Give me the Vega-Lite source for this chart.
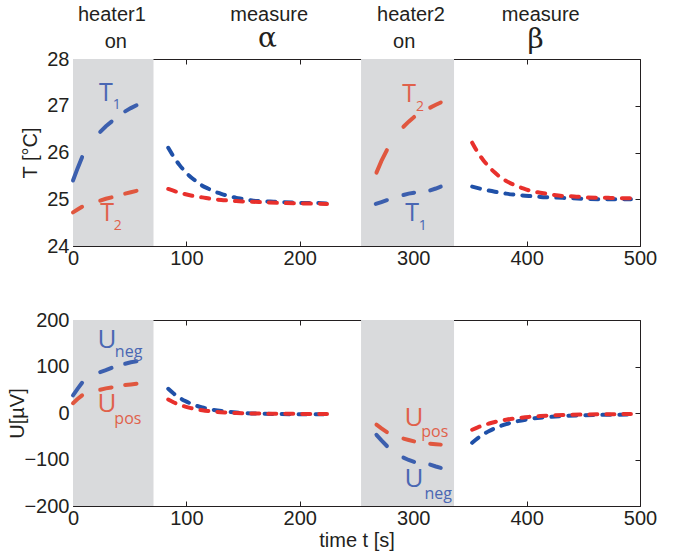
{
  "$schema": "https://vega.github.io/schema/vega-lite/v6.json",
  "background": "white",
  "padding": {"top": 4, "left": 7, "right": 2, "bottom": 5},
  "spacing": 40,
  "config": {
    "font": "Liberation Sans",
    "view": {"stroke": "#231f20", "strokeWidth": 1},
    "axis": {
      "domain": false,
      "grid": false,
      "labelFontSize": 20,
      "labelColor": "#231f20",
      "labelFont": "Liberation Sans",
      "labelFlush": false,
      "titleFont": "Liberation Sans",
      "titleFontSize": 20,
      "titleFontWeight": "normal",
      "titleColor": "#231f20",
      "tickColor": "#231f20",
      "tickSize": -5,
      "tickWidth": 1,
      "labelPadding": 7
    },
    "axisLeft": {"labelPadding": 9}
  },
  "datasets": {
    "bands": [
      {"a": 0, "b": 71},
      {"a": 254, "b": 336}
    ],
    "temp": [
      {"t": 0, "v": 25.40, "s": "T1", "k": "h", "g": "a"},
      {"t": 4, "v": 25.66, "s": "T1", "k": "h", "g": "a"},
      {"t": 8, "v": 25.90, "s": "T1", "k": "h", "g": "a"},
      {"t": 24, "v": 26.44, "s": "T1", "k": "h", "g": "b"},
      {"t": 29, "v": 26.56, "s": "T1", "k": "h", "g": "b"},
      {"t": 34, "v": 26.66, "s": "T1", "k": "h", "g": "b"},
      {"t": 46, "v": 26.88, "s": "T1", "k": "h", "g": "c"},
      {"t": 51, "v": 26.95, "s": "T1", "k": "h", "g": "c"},
      {"t": 56, "v": 27.01, "s": "T1", "k": "h", "g": "c"},
      {"t": 0, "v": 24.72, "s": "T2", "k": "h", "g": "d"},
      {"t": 4, "v": 24.78, "s": "T2", "k": "h", "g": "d"},
      {"t": 8, "v": 24.84, "s": "T2", "k": "h", "g": "d"},
      {"t": 24, "v": 24.97, "s": "T2", "k": "h", "g": "e"},
      {"t": 29, "v": 25.01, "s": "T2", "k": "h", "g": "e"},
      {"t": 34, "v": 25.04, "s": "T2", "k": "h", "g": "e"},
      {"t": 46, "v": 25.12, "s": "T2", "k": "h", "g": "f"},
      {"t": 51, "v": 25.15, "s": "T2", "k": "h", "g": "f"},
      {"t": 56, "v": 25.18, "s": "T2", "k": "h", "g": "f"},
      {"t": 267.6, "v": 25.57, "s": "T2", "k": "h", "g": "g"},
      {"t": 272, "v": 25.82, "s": "T2", "k": "h", "g": "g"},
      {"t": 276.8, "v": 26.05, "s": "T2", "k": "h", "g": "g"},
      {"t": 291.4, "v": 26.55, "s": "T2", "k": "h", "g": "h"},
      {"t": 296, "v": 26.66, "s": "T2", "k": "h", "g": "h"},
      {"t": 300.8, "v": 26.76, "s": "T2", "k": "h", "g": "h"},
      {"t": 315, "v": 26.96, "s": "T2", "k": "h", "g": "i"},
      {"t": 320, "v": 27.02, "s": "T2", "k": "h", "g": "i"},
      {"t": 324.3, "v": 27.07, "s": "T2", "k": "h", "g": "i"},
      {"t": 267, "v": 24.90, "s": "T1", "k": "h", "g": "j"},
      {"t": 272, "v": 24.94, "s": "T1", "k": "h", "g": "j"},
      {"t": 276.8, "v": 24.98, "s": "T1", "k": "h", "g": "j"},
      {"t": 291.4, "v": 25.09, "s": "T1", "k": "h", "g": "k"},
      {"t": 296, "v": 25.12, "s": "T1", "k": "h", "g": "k"},
      {"t": 300.8, "v": 25.14, "s": "T1", "k": "h", "g": "k"},
      {"t": 315, "v": 25.19, "s": "T1", "k": "h", "g": "l"},
      {"t": 320, "v": 25.23, "s": "T1", "k": "h", "g": "l"},
      {"t": 324.3, "v": 25.27, "s": "T1", "k": "h", "g": "l"},
      {"t": 84, "v": 26.10, "s": "T1", "k": "m", "g": "m"},
      {"t": 89, "v": 25.90, "s": "T1", "k": "m", "g": "m"},
      {"t": 94, "v": 25.73, "s": "T1", "k": "m", "g": "m"},
      {"t": 99, "v": 25.59, "s": "T1", "k": "m", "g": "m"},
      {"t": 104, "v": 25.47, "s": "T1", "k": "m", "g": "m"},
      {"t": 109, "v": 25.38, "s": "T1", "k": "m", "g": "m"},
      {"t": 114, "v": 25.29, "s": "T1", "k": "m", "g": "m"},
      {"t": 119, "v": 25.23, "s": "T1", "k": "m", "g": "m"},
      {"t": 124, "v": 25.17, "s": "T1", "k": "m", "g": "m"},
      {"t": 129, "v": 25.13, "s": "T1", "k": "m", "g": "m"},
      {"t": 134, "v": 25.09, "s": "T1", "k": "m", "g": "m"},
      {"t": 139, "v": 25.06, "s": "T1", "k": "m", "g": "m"},
      {"t": 144, "v": 25.03, "s": "T1", "k": "m", "g": "m"},
      {"t": 149, "v": 25.01, "s": "T1", "k": "m", "g": "m"},
      {"t": 154, "v": 24.99, "s": "T1", "k": "m", "g": "m"},
      {"t": 159, "v": 24.97, "s": "T1", "k": "m", "g": "m"},
      {"t": 164, "v": 24.96, "s": "T1", "k": "m", "g": "m"},
      {"t": 174, "v": 24.95, "s": "T1", "k": "m", "g": "m"},
      {"t": 184, "v": 24.94, "s": "T1", "k": "m", "g": "m"},
      {"t": 194, "v": 24.93, "s": "T1", "k": "m", "g": "m"},
      {"t": 204, "v": 24.92, "s": "T1", "k": "m", "g": "m"},
      {"t": 214, "v": 24.92, "s": "T1", "k": "m", "g": "m"},
      {"t": 224, "v": 24.91, "s": "T1", "k": "m", "g": "m"},
      {"t": 84, "v": 25.22, "s": "T2", "k": "m", "g": "n"},
      {"t": 94, "v": 25.14, "s": "T2", "k": "m", "g": "n"},
      {"t": 104, "v": 25.08, "s": "T2", "k": "m", "g": "n"},
      {"t": 114, "v": 25.04, "s": "T2", "k": "m", "g": "n"},
      {"t": 124, "v": 25.00, "s": "T2", "k": "m", "g": "n"},
      {"t": 134, "v": 24.98, "s": "T2", "k": "m", "g": "n"},
      {"t": 144, "v": 24.96, "s": "T2", "k": "m", "g": "n"},
      {"t": 154, "v": 24.95, "s": "T2", "k": "m", "g": "n"},
      {"t": 164, "v": 24.94, "s": "T2", "k": "m", "g": "n"},
      {"t": 184, "v": 24.92, "s": "T2", "k": "m", "g": "n"},
      {"t": 204, "v": 24.91, "s": "T2", "k": "m", "g": "n"},
      {"t": 224, "v": 24.90, "s": "T2", "k": "m", "g": "n"},
      {"t": 352, "v": 25.27, "s": "T1", "k": "m", "g": "o"},
      {"t": 362, "v": 25.21, "s": "T1", "k": "m", "g": "o"},
      {"t": 372, "v": 25.16, "s": "T1", "k": "m", "g": "o"},
      {"t": 382, "v": 25.12, "s": "T1", "k": "m", "g": "o"},
      {"t": 392, "v": 25.09, "s": "T1", "k": "m", "g": "o"},
      {"t": 402, "v": 25.07, "s": "T1", "k": "m", "g": "o"},
      {"t": 412, "v": 25.05, "s": "T1", "k": "m", "g": "o"},
      {"t": 422, "v": 25.04, "s": "T1", "k": "m", "g": "o"},
      {"t": 432, "v": 25.03, "s": "T1", "k": "m", "g": "o"},
      {"t": 452, "v": 25.01, "s": "T1", "k": "m", "g": "o"},
      {"t": 472, "v": 25.00, "s": "T1", "k": "m", "g": "o"},
      {"t": 492, "v": 25.00, "s": "T1", "k": "m", "g": "o"},
      {"t": 352, "v": 26.21, "s": "T2", "k": "m", "g": "p"},
      {"t": 357, "v": 26.00, "s": "T2", "k": "m", "g": "p"},
      {"t": 362, "v": 25.83, "s": "T2", "k": "m", "g": "p"},
      {"t": 367, "v": 25.69, "s": "T2", "k": "m", "g": "p"},
      {"t": 372, "v": 25.57, "s": "T2", "k": "m", "g": "p"},
      {"t": 377, "v": 25.47, "s": "T2", "k": "m", "g": "p"},
      {"t": 382, "v": 25.39, "s": "T2", "k": "m", "g": "p"},
      {"t": 387, "v": 25.33, "s": "T2", "k": "m", "g": "p"},
      {"t": 392, "v": 25.28, "s": "T2", "k": "m", "g": "p"},
      {"t": 397, "v": 25.23, "s": "T2", "k": "m", "g": "p"},
      {"t": 402, "v": 25.19, "s": "T2", "k": "m", "g": "p"},
      {"t": 412, "v": 25.14, "s": "T2", "k": "m", "g": "p"},
      {"t": 422, "v": 25.10, "s": "T2", "k": "m", "g": "p"},
      {"t": 432, "v": 25.07, "s": "T2", "k": "m", "g": "p"},
      {"t": 442, "v": 25.06, "s": "T2", "k": "m", "g": "p"},
      {"t": 452, "v": 25.04, "s": "T2", "k": "m", "g": "p"},
      {"t": 472, "v": 25.03, "s": "T2", "k": "m", "g": "p"},
      {"t": 492, "v": 25.02, "s": "T2", "k": "m", "g": "p"}
    ],
    "volt": [
      {"t": 0, "v": 38, "s": "Uneg", "k": "h", "g": "a"},
      {"t": 4, "v": 52, "s": "Uneg", "k": "h", "g": "a"},
      {"t": 8, "v": 65, "s": "Uneg", "k": "h", "g": "a"},
      {"t": 24, "v": 88, "s": "Uneg", "k": "h", "g": "b"},
      {"t": 29, "v": 92, "s": "Uneg", "k": "h", "g": "b"},
      {"t": 34, "v": 97, "s": "Uneg", "k": "h", "g": "b"},
      {"t": 46, "v": 106, "s": "Uneg", "k": "h", "g": "c"},
      {"t": 51, "v": 109, "s": "Uneg", "k": "h", "g": "c"},
      {"t": 56, "v": 111, "s": "Uneg", "k": "h", "g": "c"},
      {"t": 0, "v": 21, "s": "Upos", "k": "h", "g": "d"},
      {"t": 4, "v": 30, "s": "Upos", "k": "h", "g": "d"},
      {"t": 8, "v": 38, "s": "Upos", "k": "h", "g": "d"},
      {"t": 24, "v": 50, "s": "Upos", "k": "h", "g": "e"},
      {"t": 29, "v": 53, "s": "Upos", "k": "h", "g": "e"},
      {"t": 34, "v": 55, "s": "Upos", "k": "h", "g": "e"},
      {"t": 46, "v": 60, "s": "Upos", "k": "h", "g": "f"},
      {"t": 51, "v": 61.5, "s": "Upos", "k": "h", "g": "f"},
      {"t": 56, "v": 63, "s": "Upos", "k": "h", "g": "f"},
      {"t": 267.6, "v": -25, "s": "Upos", "k": "h", "g": "g"},
      {"t": 272, "v": -33, "s": "Upos", "k": "h", "g": "g"},
      {"t": 276.8, "v": -41, "s": "Upos", "k": "h", "g": "g"},
      {"t": 291.4, "v": -55, "s": "Upos", "k": "h", "g": "h"},
      {"t": 296, "v": -58, "s": "Upos", "k": "h", "g": "h"},
      {"t": 300.8, "v": -61, "s": "Upos", "k": "h", "g": "h"},
      {"t": 315, "v": -66, "s": "Upos", "k": "h", "g": "i"},
      {"t": 320, "v": -67, "s": "Upos", "k": "h", "g": "i"},
      {"t": 324.3, "v": -68, "s": "Upos", "k": "h", "g": "i"},
      {"t": 267.6, "v": -47, "s": "Uneg", "k": "h", "g": "j"},
      {"t": 272, "v": -59, "s": "Uneg", "k": "h", "g": "j"},
      {"t": 276.8, "v": -71, "s": "Uneg", "k": "h", "g": "j"},
      {"t": 291.4, "v": -96, "s": "Uneg", "k": "h", "g": "k"},
      {"t": 296, "v": -101, "s": "Uneg", "k": "h", "g": "k"},
      {"t": 300.8, "v": -105, "s": "Uneg", "k": "h", "g": "k"},
      {"t": 315, "v": -111, "s": "Uneg", "k": "h", "g": "l"},
      {"t": 320, "v": -115, "s": "Uneg", "k": "h", "g": "l"},
      {"t": 324.3, "v": -118, "s": "Uneg", "k": "h", "g": "l"},
      {"t": 84, "v": 52, "s": "Uneg", "k": "m", "g": "m"},
      {"t": 89, "v": 41.3, "s": "Uneg", "k": "m", "g": "m"},
      {"t": 94, "v": 32.6, "s": "Uneg", "k": "m", "g": "m"},
      {"t": 99, "v": 25.7, "s": "Uneg", "k": "m", "g": "m"},
      {"t": 104, "v": 20.1, "s": "Uneg", "k": "m", "g": "m"},
      {"t": 109, "v": 15.5, "s": "Uneg", "k": "m", "g": "m"},
      {"t": 114, "v": 11.9, "s": "Uneg", "k": "m", "g": "m"},
      {"t": 124, "v": 6.7, "s": "Uneg", "k": "m", "g": "m"},
      {"t": 134, "v": 3.3, "s": "Uneg", "k": "m", "g": "m"},
      {"t": 144, "v": 1.1, "s": "Uneg", "k": "m", "g": "m"},
      {"t": 154, "v": -0.4, "s": "Uneg", "k": "m", "g": "m"},
      {"t": 164, "v": -1.3, "s": "Uneg", "k": "m", "g": "m"},
      {"t": 184, "v": -2.3, "s": "Uneg", "k": "m", "g": "m"},
      {"t": 204, "v": -2.7, "s": "Uneg", "k": "m", "g": "m"},
      {"t": 224, "v": -2.9, "s": "Uneg", "k": "m", "g": "m"},
      {"t": 84, "v": 29, "s": "Upos", "k": "m", "g": "n"},
      {"t": 89, "v": 22.7, "s": "Upos", "k": "m", "g": "n"},
      {"t": 94, "v": 17.7, "s": "Upos", "k": "m", "g": "n"},
      {"t": 99, "v": 13.7, "s": "Upos", "k": "m", "g": "n"},
      {"t": 104, "v": 10.5, "s": "Upos", "k": "m", "g": "n"},
      {"t": 114, "v": 5.9, "s": "Upos", "k": "m", "g": "n"},
      {"t": 124, "v": 3.0, "s": "Upos", "k": "m", "g": "n"},
      {"t": 134, "v": 1.2, "s": "Upos", "k": "m", "g": "n"},
      {"t": 144, "v": 0.0, "s": "Upos", "k": "m", "g": "n"},
      {"t": 164, "v": -1.2, "s": "Upos", "k": "m", "g": "n"},
      {"t": 184, "v": -1.7, "s": "Upos", "k": "m", "g": "n"},
      {"t": 204, "v": -1.9, "s": "Upos", "k": "m", "g": "n"},
      {"t": 224, "v": -2.0, "s": "Upos", "k": "m", "g": "n"},
      {"t": 352, "v": -64, "s": "Uneg", "k": "m", "g": "o"},
      {"t": 357, "v": -54.1, "s": "Uneg", "k": "m", "g": "o"},
      {"t": 362, "v": -45.7, "s": "Uneg", "k": "m", "g": "o"},
      {"t": 367, "v": -38.7, "s": "Uneg", "k": "m", "g": "o"},
      {"t": 372, "v": -32.9, "s": "Uneg", "k": "m", "g": "o"},
      {"t": 377, "v": -28.0, "s": "Uneg", "k": "m", "g": "o"},
      {"t": 382, "v": -23.9, "s": "Uneg", "k": "m", "g": "o"},
      {"t": 392, "v": -17.6, "s": "Uneg", "k": "m", "g": "o"},
      {"t": 402, "v": -13.2, "s": "Uneg", "k": "m", "g": "o"},
      {"t": 412, "v": -10.1, "s": "Uneg", "k": "m", "g": "o"},
      {"t": 422, "v": -8.0, "s": "Uneg", "k": "m", "g": "o"},
      {"t": 432, "v": -6.5, "s": "Uneg", "k": "m", "g": "o"},
      {"t": 452, "v": -4.7, "s": "Uneg", "k": "m", "g": "o"},
      {"t": 472, "v": -3.8, "s": "Uneg", "k": "m", "g": "o"},
      {"t": 492, "v": -3.4, "s": "Uneg", "k": "m", "g": "o"},
      {"t": 352, "v": -36, "s": "Upos", "k": "m", "g": "p"},
      {"t": 357, "v": -30.8, "s": "Upos", "k": "m", "g": "p"},
      {"t": 362, "v": -26.4, "s": "Upos", "k": "m", "g": "p"},
      {"t": 367, "v": -22.6, "s": "Upos", "k": "m", "g": "p"},
      {"t": 372, "v": -19.4, "s": "Upos", "k": "m", "g": "p"},
      {"t": 382, "v": -14.5, "s": "Upos", "k": "m", "g": "p"},
      {"t": 392, "v": -11.0, "s": "Upos", "k": "m", "g": "p"},
      {"t": 402, "v": -8.4, "s": "Upos", "k": "m", "g": "p"},
      {"t": 412, "v": -6.6, "s": "Upos", "k": "m", "g": "p"},
      {"t": 422, "v": -5.3, "s": "Upos", "k": "m", "g": "p"},
      {"t": 432, "v": -4.4, "s": "Upos", "k": "m", "g": "p"},
      {"t": 452, "v": -3.2, "s": "Upos", "k": "m", "g": "p"},
      {"t": 472, "v": -2.6, "s": "Upos", "k": "m", "g": "p"},
      {"t": 492, "v": -2.3, "s": "Upos", "k": "m", "g": "p"}
    ],
    "tlabels": [
      {"t": 29, "v": 27.28, "txt": "T", "s": "b", "k": "main"},
      {"t": 38.5, "v": 27.02, "txt": "1", "s": "b", "k": "sub"},
      {"t": 30, "v": 24.71, "txt": "T", "s": "r", "k": "main"},
      {"t": 39.5, "v": 24.42, "txt": "2", "s": "r", "k": "sub"},
      {"t": 296.4, "v": 27.26, "txt": "T", "s": "r", "k": "main"},
      {"t": 306, "v": 26.98, "txt": "2", "s": "r", "k": "sub"},
      {"t": 299, "v": 24.71, "txt": "T", "s": "b", "k": "main"},
      {"t": 308.5, "v": 24.43, "txt": "1", "s": "b", "k": "sub"},
      {"t": 34.3, "v": 28.95, "txt": "heater1", "s": "k", "k": "head"},
      {"t": 37.8, "v": 28.37, "txt": "on", "s": "k", "k": "head"},
      {"t": 173, "v": 28.95, "txt": "measure", "s": "k", "k": "head"},
      {"t": 171.5, "v": 28.42, "txt": "α", "s": "k", "k": "greek"},
      {"t": 298, "v": 28.95, "txt": "heater2", "s": "k", "k": "head"},
      {"t": 292, "v": 28.37, "txt": "on", "s": "k", "k": "head"},
      {"t": 412.5, "v": 28.95, "txt": "measure", "s": "k", "k": "head"},
      {"t": 408, "v": 28.40, "txt": "β", "s": "k", "k": "greek"}
    ],
    "ulabels": [
      {"t": 30, "v": 158, "txt": "U", "s": "b", "k": "main"},
      {"t": 49, "v": 131, "txt": "neg", "s": "b", "k": "sub"},
      {"t": 30, "v": 19, "txt": "U", "s": "r", "k": "main"},
      {"t": 48.4, "v": -13, "txt": "pos", "s": "r", "k": "sub"},
      {"t": 300.8, "v": -11, "txt": "U", "s": "r", "k": "main"},
      {"t": 319, "v": -41, "txt": "pos", "s": "r", "k": "sub"},
      {"t": 300.8, "v": -143, "txt": "U", "s": "b", "k": "main"},
      {"t": 322, "v": -174, "txt": "neg", "s": "b", "k": "sub"}
    ]
  },
  "vconcat": [
    {
      "width": 567,
      "height": 187,
      "resolve": {"axis": {"x": "independent", "y": "independent"}},
      "layer": [
        {
          "data": {"name": "bands"},
          "mark": {"type": "rect", "color": "#d9dadc"},
          "encoding": {
            "x": {"field": "a", "type": "quantitative", "scale": {"domain": [0, 500], "nice": false, "zero": false},
                  "axis": {"values": [0, 100, 200, 300, 400, 500], "title": null}},
            "x2": {"field": "b"},
            "y": {"datum": 24, "type": "quantitative", "scale": {"domain": [24, 28], "nice": false, "zero": false},
                  "axis": {"values": [24, 25, 26, 27, 28], "title": "T [°C]", "titlePadding": 6}},
            "y2": {"datum": 28}
          }
        },
        {
          "data": {"name": "bands"},
          "mark": {"type": "point", "opacity": 0},
          "encoding": {
            "x": {"field": "a", "type": "quantitative", "axis": {"orient": "top", "labels": false, "values": [0, 100, 200, 300, 400, 500], "title": null}},
            "y": {"datum": 24, "type": "quantitative", "axis": {"orient": "right", "labels": false, "values": [24, 25, 26, 27, 28], "title": null}}
          }
        },
        {
          "data": {"name": "temp"},
          "transform": [{"filter": "datum.k == 'h' && datum.s == 'T1'"}],
          "mark": {"type": "line", "color": "#3c5fae", "strokeWidth": 4, "strokeCap": "round"},
          "encoding": {
            "x": {"field": "t", "type": "quantitative", "axis": null},
            "y": {"field": "v", "type": "quantitative", "axis": null},
            "detail": {"field": "g"}
          }
        },
        {
          "data": {"name": "temp"},
          "transform": [{"filter": "datum.k == 'h' && datum.s == 'T2'"}],
          "mark": {"type": "line", "color": "#e0573f", "strokeWidth": 4, "strokeCap": "round"},
          "encoding": {
            "x": {"field": "t", "type": "quantitative", "axis": null},
            "y": {"field": "v", "type": "quantitative", "axis": null},
            "detail": {"field": "g"}
          }
        },
        {
          "data": {"name": "temp"},
          "transform": [{"filter": "datum.k == 'm' && datum.s == 'T1'"}],
          "mark": {"type": "line", "color": "#1f50a8", "strokeWidth": 4, "strokeCap": "round", "strokeDash": [8, 9], "interpolate": "monotone"},
          "encoding": {
            "x": {"field": "t", "type": "quantitative", "axis": null},
            "y": {"field": "v", "type": "quantitative", "axis": null},
            "detail": {"field": "g"}
          }
        },
        {
          "data": {"name": "temp"},
          "transform": [{"filter": "datum.k == 'm' && datum.s == 'T2'"}],
          "mark": {"type": "line", "color": "#e8302c", "strokeWidth": 4, "strokeCap": "round", "strokeDash": [8, 9], "interpolate": "monotone"},
          "encoding": {
            "x": {"field": "t", "type": "quantitative", "axis": null},
            "y": {"field": "v", "type": "quantitative", "axis": null},
            "detail": {"field": "g"}
          }
        },
        {
          "data": {"name": "tlabels"},
          "transform": [{"filter": "datum.k == 'main'"}],
          "mark": {"type": "text", "fontSize": 25, "font": "Open Sans"},
          "encoding": {
            "x": {"field": "t", "type": "quantitative", "axis": null},
            "y": {"field": "v", "type": "quantitative", "axis": null},
            "text": {"field": "txt"},
            "color": {"field": "s", "type": "nominal", "scale": {"domain": ["b", "r", "k"], "range": ["#4a67b3", "#e0614b", "#231f20"]}, "legend": null}
          }
        },
        {
          "data": {"name": "tlabels"},
          "transform": [{"filter": "datum.k == 'sub'"}],
          "mark": {"type": "text", "fontSize": 14, "font": "Open Sans"},
          "encoding": {
            "x": {"field": "t", "type": "quantitative", "axis": null},
            "y": {"field": "v", "type": "quantitative", "axis": null},
            "text": {"field": "txt"},
            "color": {"field": "s", "type": "nominal", "legend": null}
          }
        },
        {
          "data": {"name": "tlabels"},
          "transform": [{"filter": "datum.k == 'head'"}],
          "mark": {"type": "text", "fontSize": 20, "font": "Liberation Sans Narrow, Liberation Sans"},
          "encoding": {
            "x": {"field": "t", "type": "quantitative", "axis": null},
            "y": {"field": "v", "type": "quantitative", "axis": null},
            "text": {"field": "txt"},
            "color": {"field": "s", "type": "nominal", "legend": null}
          }
        },
        {
          "data": {"name": "tlabels"},
          "transform": [{"filter": "datum.k == 'greek'"}],
          "mark": {"type": "text", "fontSize": 28, "font": "DejaVu Serif"},
          "encoding": {
            "x": {"field": "t", "type": "quantitative", "axis": null},
            "y": {"field": "v", "type": "quantitative", "axis": null},
            "text": {"field": "txt"},
            "color": {"field": "s", "type": "nominal", "legend": null}
          }
        }
      ]
    },
    {
      "width": 567,
      "height": 186,
      "resolve": {"axis": {"x": "independent", "y": "independent"}},
      "layer": [
        {
          "data": {"name": "bands"},
          "mark": {"type": "rect", "color": "#d9dadc"},
          "encoding": {
            "x": {"field": "a", "type": "quantitative", "scale": {"domain": [0, 500], "nice": false, "zero": false},
                  "axis": {"values": [0, 100, 200, 300, 400, 500], "title": "time t [s]", "titlePadding": 2}},
            "x2": {"field": "b"},
            "y": {"datum": -200, "type": "quantitative", "scale": {"domain": [-200, 200], "nice": false, "zero": false},
                  "axis": {"values": [-200, -100, 0, 100, 200], "title": "U[µV]", "titlePadding": -4}},
            "y2": {"datum": 200}
          }
        },
        {
          "data": {"name": "bands"},
          "mark": {"type": "point", "opacity": 0},
          "encoding": {
            "x": {"field": "a", "type": "quantitative", "axis": {"orient": "top", "labels": false, "values": [0, 100, 200, 300, 400, 500], "title": null}},
            "y": {"datum": -200, "type": "quantitative", "axis": {"orient": "right", "labels": false, "values": [-200, -100, 0, 100, 200], "title": null}}
          }
        },
        {
          "data": {"name": "volt"},
          "transform": [{"filter": "datum.k == 'h' && datum.s == 'Uneg'"}],
          "mark": {"type": "line", "color": "#3c5fae", "strokeWidth": 4, "strokeCap": "round"},
          "encoding": {
            "x": {"field": "t", "type": "quantitative", "axis": null},
            "y": {"field": "v", "type": "quantitative", "axis": null},
            "detail": {"field": "g"}
          }
        },
        {
          "data": {"name": "volt"},
          "transform": [{"filter": "datum.k == 'h' && datum.s == 'Upos'"}],
          "mark": {"type": "line", "color": "#e0573f", "strokeWidth": 4, "strokeCap": "round"},
          "encoding": {
            "x": {"field": "t", "type": "quantitative", "axis": null},
            "y": {"field": "v", "type": "quantitative", "axis": null},
            "detail": {"field": "g"}
          }
        },
        {
          "data": {"name": "volt"},
          "transform": [{"filter": "datum.k == 'm' && datum.s == 'Uneg'"}],
          "mark": {"type": "line", "color": "#1f50a8", "strokeWidth": 4, "strokeCap": "round", "strokeDash": [8, 9], "interpolate": "monotone"},
          "encoding": {
            "x": {"field": "t", "type": "quantitative", "axis": null},
            "y": {"field": "v", "type": "quantitative", "axis": null},
            "detail": {"field": "g"}
          }
        },
        {
          "data": {"name": "volt"},
          "transform": [{"filter": "datum.k == 'm' && datum.s == 'Upos'"}],
          "mark": {"type": "line", "color": "#e8302c", "strokeWidth": 4, "strokeCap": "round", "strokeDash": [8, 9], "interpolate": "monotone"},
          "encoding": {
            "x": {"field": "t", "type": "quantitative", "axis": null},
            "y": {"field": "v", "type": "quantitative", "axis": null},
            "detail": {"field": "g"}
          }
        },
        {
          "data": {"name": "ulabels"},
          "transform": [{"filter": "datum.k == 'main'"}],
          "mark": {"type": "text", "fontSize": 26, "font": "Open Sans"},
          "encoding": {
            "x": {"field": "t", "type": "quantitative", "axis": null},
            "y": {"field": "v", "type": "quantitative", "axis": null},
            "text": {"field": "txt"},
            "color": {"field": "s", "type": "nominal", "scale": {"domain": ["b", "r"], "range": ["#4a67b3", "#e0614b"]}, "legend": null}
          }
        },
        {
          "data": {"name": "ulabels"},
          "transform": [{"filter": "datum.k == 'sub'"}],
          "mark": {"type": "text", "fontSize": 16, "font": "Open Sans"},
          "encoding": {
            "x": {"field": "t", "type": "quantitative", "axis": null},
            "y": {"field": "v", "type": "quantitative", "axis": null},
            "text": {"field": "txt"},
            "color": {"field": "s", "type": "nominal", "legend": null}
          }
        }
      ]
    }
  ]
}
